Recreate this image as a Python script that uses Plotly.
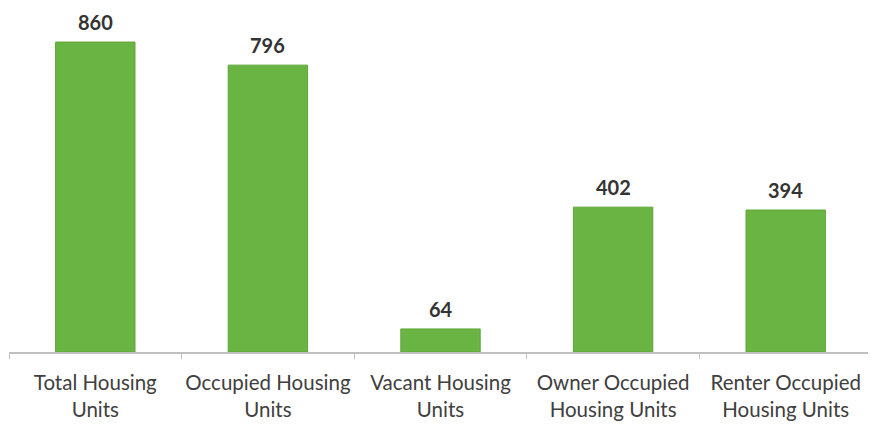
import plotly.graph_objects as go

categories = ["Total Housing<br>Units", "Occupied Housing<br>Units", "Vacant Housing<br>Units",
              "Owner Occupied<br>Housing Units", "Renter Occupied<br>Housing Units"]
values = [860, 796, 64, 402, 394]
value_labels = [str(v) for v in values]

fig = go.Figure()
fig.add_trace(go.Bar(
    x=categories, y=values,
    marker=dict(color="#6ab443", line=dict(color="#5ea63a", width=1)),
    width=0.46,
    hoverinfo="skip",
))
for c, v, t in zip(categories, values, value_labels):
    fig.add_annotation(x=c, y=v, text="<b>%s</b>" % t, showarrow=False,
                       yanchor="bottom", yshift=6,
                       font=dict(family="Lato, Open Sans, sans-serif", size=20, color="#333333"))

fig.update_layout(
    width=876, height=438,
    margin=dict(l=1, r=12, t=2, b=94),
    paper_bgcolor="white", plot_bgcolor="white",
    showlegend=False,
    xaxis=dict(showline=True, linecolor="#c0c0c0", linewidth=1.5, automargin=False,
               ticks="outside", tickson="boundaries", ticklen=5, tickcolor="#c0c0c0",
               tickangle=0,
               tickfont=dict(family="Lato, Open Sans, sans-serif", size=20.5, color="#404040"),
               ticklabelstandoff=12, showgrid=False),
    yaxis=dict(range=[0, 949], visible=False, showgrid=False, automargin=False),
)
fig.write_html("out.html")
